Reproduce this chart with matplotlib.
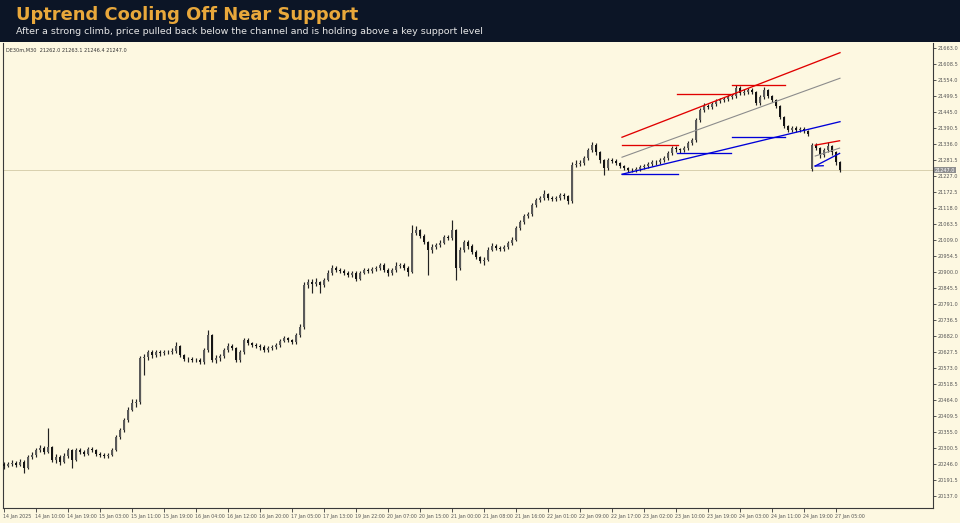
import matplotlib
matplotlib.use("Agg")
import matplotlib.pyplot as plt
from matplotlib.patches import Rectangle
import numpy as np

# ---------------- data ----------------
symbol_info = "DE30m,M30  21262.0 21263.1 21246.4 21247.0"
title = "Uptrend Cooling Off Near Support"
subtitle = "After a strong climb, price pulled back below the channel and is holding above a key support level"

first_open = 20245
gap_index = 202
gap_open = 21250

closes = [
    20239, 20246, 20250, 20243, 20253, 20233, 20270, 20277, 20294, 20301,
    20287, 20304, 20260, 20270, 20253, 20274, 20294, 20260, 20294, 20287,
    20280, 20297, 20294, 20280, 20277, 20274, 20277, 20294, 20338, 20362,
    20396, 20430, 20454, 20457, 20607, 20610, 20627, 20617, 20627, 20624,
    20627, 20627, 20631, 20648, 20617, 20603, 20603, 20600, 20600, 20593,
    20634, 20685, 20600, 20607, 20613, 20634, 20648, 20641, 20600, 20627,
    20668, 20658, 20651, 20648, 20644, 20634, 20641, 20644, 20651, 20665,
    20675, 20668, 20661, 20685, 20712, 20856, 20866, 20860, 20866, 20856,
    20873, 20897, 20914, 20907, 20904, 20897, 20890, 20897, 20877, 20897,
    20907, 20904, 20911, 20914, 20924, 20907, 20897, 20907, 20921, 20924,
    20914, 20900, 21033, 21043, 21023, 21002, 20975, 20985, 20992, 20999,
    21019, 21016, 21043, 20914, 20975, 21002, 20989, 20968, 20951, 20938,
    20941, 20975, 20989, 20982, 20979, 20985, 20999, 21009, 21050, 21070,
    21091, 21097, 21128, 21145, 21152, 21166, 21152, 21149, 21152, 21162,
    21159, 21142, 21264, 21267, 21271, 21288, 21315, 21333, 21308, 21281,
    21254, 21281, 21278, 21271, 21261, 21254, 21247, 21247, 21250, 21257,
    21261, 21267, 21274, 21274, 21281, 21288, 21305, 21322, 21318, 21315,
    21322, 21339, 21349, 21417, 21451, 21465, 21462, 21472, 21482, 21486,
    21489, 21496, 21499, 21527, 21510, 21513, 21520, 21513, 21476, 21496,
    21520, 21499, 21486, 21465, 21428, 21397, 21384, 21390, 21384, 21387,
    21380, 21370, 21333, 21322, 21298, 21315, 21329, 21308, 21274, 21247,
]
highs = [
    20252, 20254, 20258, 20256, 20262, 20258, 20276, 20288, 20300, 20310,
    20306, 20369, 20308, 20280, 20276, 20282, 20302, 20298, 20300, 20302,
    20292, 20304, 20303, 20298, 20286, 20282, 20283, 20300, 20345, 20370,
    20404, 20440, 20468, 20466, 20615, 20622, 20636, 20634, 20635, 20633,
    20636, 20635, 20640, 20660, 20652, 20622, 20611, 20610, 20608, 20606,
    20642, 20702, 20690, 20616, 20622, 20642, 20658, 20655, 20646, 20635,
    20676, 20674, 20663, 20658, 20655, 20650, 20648, 20652, 20658, 20672,
    20683, 20680, 20673, 20692, 20722, 20866, 20876, 20875, 20878, 20870,
    20880, 20906, 20924, 20920, 20914, 20910, 20902, 20905, 20902, 20905,
    20914, 20913, 20918, 20922, 20932, 20930, 20912, 20915, 20935, 20932,
    20930, 20920, 21060, 21055, 21048, 21028, 21006, 20996, 21000, 21008,
    21027, 21026, 21077, 21048, 20984, 21010, 21008, 20994, 20974, 20956,
    20950, 20984, 20998, 20994, 20988, 20993, 21007, 21018, 21058, 21078,
    21098, 21106, 21136, 21153, 21160, 21179, 21170, 21158, 21160, 21170,
    21168, 21163, 21275, 21280, 21280, 21296, 21322, 21343, 21338, 21312,
    21286, 21288, 21288, 21284, 21276, 21266, 21259, 21254, 21257, 21264,
    21268, 21275, 21281, 21282, 21290, 21296, 21312, 21330, 21328, 21324,
    21330, 21346, 21358, 21426, 21460, 21474, 21472, 21480, 21490, 21494,
    21497, 21504, 21508, 21537, 21532, 21522, 21528, 21526, 21518, 21504,
    21530, 21524, 21504, 21490, 21470, 21432, 21402, 21398, 21396, 21395,
    21393, 21385, 21340, 21338, 21326, 21322, 21343, 21334, 21312, 21278,
]
lows = [
    20230, 20235, 20240, 20236, 20238, 20216, 20228, 20262, 20270, 20286,
    20280, 20282, 20252, 20250, 20244, 20248, 20268, 20233, 20255, 20280,
    20272, 20276, 20288, 20274, 20270, 20268, 20268, 20272, 20290, 20330,
    20356, 20388, 20425, 20440, 20452, 20550, 20600, 20608, 20610, 20615,
    20618, 20619, 20620, 20625, 20610, 20596, 20595, 20592, 20593, 20585,
    20588, 20628, 20592, 20590, 20598, 20606, 20628, 20634, 20592, 20594,
    20620, 20650, 20644, 20640, 20636, 20626, 20628, 20635, 20638, 20646,
    20660, 20660, 20654, 20656, 20680, 20705, 20846, 20828, 20852, 20830,
    20850, 20868, 20890, 20900, 20896, 20890, 20883, 20884, 20868, 20872,
    20892, 20897, 20898, 20905, 20908, 20900, 20888, 20890, 20900, 20914,
    20906, 20888, 20896, 21025, 21015, 20994, 20890, 20966, 20978, 20986,
    20994, 21008, 21010, 20873, 20908, 20968, 20980, 20960, 20944, 20930,
    20925, 20936, 20970, 20975, 20972, 20972, 20980, 20992, 21004, 21044,
    21064, 21085, 21092, 21122, 21138, 21146, 21145, 21141, 21143, 21146,
    21150, 21130, 21136, 21256, 21260, 21265, 21282, 21308, 21300, 21272,
    21230, 21248, 21270, 21264, 21254, 21247, 21240, 21240, 21241, 21244,
    21251, 21255, 21262, 21266, 21268, 21276, 21282, 21300, 21310, 21306,
    21308, 21316, 21332, 21344, 21410, 21446, 21454, 21456, 21466, 21476,
    21480, 21483, 21490, 21494, 21503, 21504, 21507, 21505, 21468, 21470,
    21490, 21492, 21478, 21458, 21420, 21390, 21376, 21377, 21376, 21378,
    21372, 21362, 21245, 21314, 21290, 21292, 21310, 21300, 21266, 21240,
]

last_price = 21247.0
price_ticks = [20137.0, 20191.5, 20246.0, 20300.5, 20355.0, 20409.5, 20464.0,
               20518.5, 20573.0, 20627.5, 20682.0, 20736.5, 20791.0, 20845.5,
               20900.0, 20954.5, 21009.0, 21063.5, 21118.0, 21172.5, 21227.0,
               21281.5, 21336.0, 21390.5, 21445.0, 21499.5, 21554.0, 21608.5,
               21663.0]
time_labels = ["14 Jan 2025", "14 Jan 10:00", "14 Jan 19:00", "15 Jan 03:00",
               "15 Jan 11:00", "15 Jan 19:00", "16 Jan 04:00", "16 Jan 12:00",
               "16 Jan 20:00", "17 Jan 05:00", "17 Jan 13:00", "19 Jan 22:00",
               "20 Jan 07:00", "20 Jan 15:00", "21 Jan 00:00", "21 Jan 08:00",
               "21 Jan 16:00", "22 Jan 01:00", "22 Jan 09:00", "22 Jan 17:00",
               "23 Jan 02:00", "23 Jan 10:00", "23 Jan 19:00", "24 Jan 03:00",
               "24 Jan 11:00", "24 Jan 19:00", "27 Jan 05:00"]
bars_per_label = 8

# trend lines: (x0, y0, x1, y1) in bar index / price
red_lines = [(154.5, 21359, 209.0, 21647),
             (154.5, 21334, 168.5, 21334),
             (168.3, 21508, 182.3, 21508),
             (181.9, 21537, 195.3, 21537),
             (202.8, 21332, 208.9, 21347)]
blue_lines = [(154.5, 21233, 209.0, 21412),
              (154.5, 21233, 168.5, 21233),
              (168.3, 21306, 181.8, 21306),
              (181.9, 21360, 195.3, 21360),
              (202.8, 21261, 208.9, 21304),
              (202.8, 21261, 204.8, 21262)]
gray_lines = [(154.5, 21291, 209.0, 21560),
              (202.8, 21295, 208.9, 21322)]

# ---------------- style ----------------
BG = "#FDF8E1"
HEADER = "#0C1526"
W, H = 960, 523
fig = plt.figure(figsize=(W / 100, H / 100), dpi=100, facecolor=BG)
fig.patches.append(Rectangle((0, 1 - 42 / H), 1, 42 / H, transform=fig.transFigure,
                             facecolor=HEADER, edgecolor="none", zorder=0))
fig.text(16 / W, 1 - 15 / H, title, color="#E9A83B", fontsize=12.9,
         fontweight="bold", va="center", ha="left")
fig.text(16 / W, 1 - 32 / H, subtitle, color="#E6E6E6", fontsize=6.8,
         va="center", ha="left")

ax_l, ax_r, ax_t, ax_b = 3, 933, 43, 508
ax = fig.add_axes([ax_l / W, (H - ax_b) / H, (ax_r - ax_l) / W, (ax_b - ax_t) / H])
ax.set_facecolor(BG)

n = len(closes)
x = np.arange(n)
opens = [first_open] + closes[:-1]
opens[gap_index] = gap_open
o = np.array(opens, float)
c = np.array(closes, float)
hi = np.array(highs, float)
lo = np.array(lows, float)

ax.vlines(x, lo, hi, color="#222222", linewidth=0.85, zorder=3)
body_lo = np.minimum(o, c)
body_h = np.maximum(np.abs(c - o), 1.5)
up = c >= o
ax.bar(x[up], body_h[up], bottom=body_lo[up], width=0.45, color="#5A5A5A",
       edgecolor="none", linewidth=0, zorder=4)
ax.bar(x[~up], body_h[~up], bottom=body_lo[~up], width=0.45, color="#141414",
       edgecolor="none", linewidth=0, zorder=4)

# current price line
ax.axhline(last_price, color="#D8D0AE", linewidth=0.7, zorder=1)

for x0, y0, x1, y1 in gray_lines:
    ax.plot([x0, x1], [y0, y1], color="#8C8C8C", linewidth=0.8, zorder=5)
for x0, y0, x1, y1 in red_lines:
    ax.plot([x0, x1], [y0, y1], color="#E00000", linewidth=0.95, zorder=5)
for x0, y0, x1, y1 in blue_lines:
    ax.plot([x0, x1], [y0, y1], color="#0000D8", linewidth=0.95, zorder=5)

# axes limits
px_per_bar = 4.0
x_left = -(4 - ax_l) / px_per_bar
x_right = x_left + (ax_r - ax_l) / px_per_bar
ax.set_xlim(x_left, x_right)
price_per_px = 54.5 / 16.0
ref_y = 48
y_top = price_ticks[-1] + (ref_y - ax_t) * price_per_px
y_bot = price_ticks[-1] - (ax_b - ref_y) * price_per_px
ax.set_ylim(y_bot, y_top)

ax.spines["top"].set_visible(False)
for s in ["left", "right", "bottom"]:
    ax.spines[s].set_color("#3A3A3A")
    ax.spines[s].set_linewidth(0.8)

# right price axis
ax.yaxis.tick_right()
ax.set_yticks(price_ticks)
ax.set_yticklabels([f"{v:.1f}" for v in price_ticks])
ax.tick_params(axis="y", direction="out", length=2.5, width=0.6, colors="#3A3A3A",
               labelsize=3.6, pad=1.2, labelcolor="#555555")

# bottom time axis
tick_pos = [k * bars_per_label for k in range(len(time_labels))]
ax.set_xticks(tick_pos)
ax.set_xticklabels([])
ax.tick_params(axis="x", direction="out", length=3, width=0.6, colors="#3A3A3A")
for pos, lab in zip(tick_pos, time_labels):
    ax.text(pos - 0.3, -0.012, lab, transform=ax.get_xaxis_transform(),
            ha="left", va="top", fontsize=3.4, color="#555555")

# current price tag
ax.text(1.0 + 2 / (ax_r - ax_l), last_price, f"{last_price:.1f}",
        transform=ax.get_yaxis_transform(), ha="left", va="center",
        fontsize=3.6, color="white", zorder=10,
        bbox=dict(boxstyle="square,pad=0.15", facecolor="#8E8E8E", edgecolor="none"),
        clip_on=False)

# symbol info
ax.text(0.003, 0.99, symbol_info, transform=ax.transAxes, ha="left", va="top",
        fontsize=3.6, color="#333333")

fig.savefig("out.png", dpi=100, facecolor=BG)
